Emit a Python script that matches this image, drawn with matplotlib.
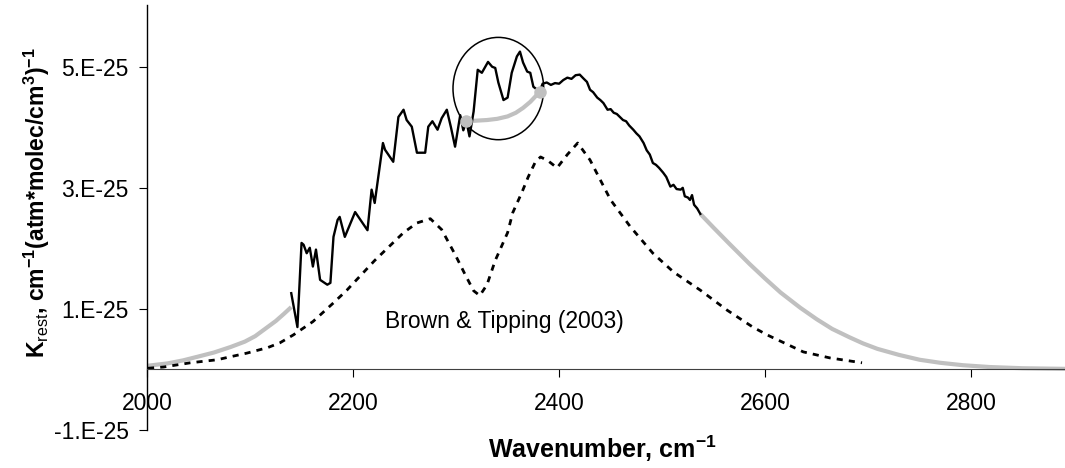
import matplotlib
matplotlib.use("Agg")
import matplotlib.pyplot as plt
from matplotlib.patches import Ellipse
from matplotlib.ticker import FuncFormatter

plt.rcParams['font.family'] = ['Liberation Sans', 'DejaVu Sans']
plt.rcParams['mathtext.fontset'] = 'custom'
plt.rcParams['mathtext.rm'] = 'Liberation Sans'
plt.rcParams['mathtext.bf'] = 'Liberation Sans:bold'

ESCALA = 1e-25

# ============================================================
# DATOS (en unidades de 1E-25)
# ============================================================
# Espectro medido (linea negra)
medido_x = [2140, 2146, 2150, 2152, 2155, 2158, 2161, 2164, 2168, 2175, 2178, 2181,
            2185, 2187, 2192, 2202, 2214, 2218, 2221, 2229, 2231, 2239, 2244, 2249,
            2252, 2257, 2262, 2270, 2273, 2277, 2282, 2286, 2291, 2295, 2299, 2304,
            2307, 2310, 2313, 2317, 2321, 2325, 2331, 2335, 2338, 2341, 2346, 2350,
            2354, 2359, 2362, 2365, 2369, 2372, 2375, 2381, 2384, 2388, 2392, 2396,
            2400, 2404, 2408, 2412, 2416, 2420, 2424, 2427, 2430, 2433, 2437, 2440,
            2443, 2447, 2450, 2453, 2456, 2459, 2462, 2465, 2468, 2472, 2475, 2478,
            2482, 2485, 2488, 2491, 2494, 2497, 2501, 2504, 2508, 2511, 2514, 2518,
            2520, 2522, 2525, 2527, 2529, 2531, 2534, 2537]
medido_y = [1.26, 0.70, 2.09, 2.06, 1.92, 2.01, 1.70, 1.98, 1.48, 1.40, 1.43, 2.19,
            2.47, 2.52, 2.19, 2.60, 2.30, 2.97, 2.75, 3.74, 3.63, 3.43, 4.17, 4.29,
            4.12, 4.01, 3.58, 3.58, 4.01, 4.10, 3.96, 4.15, 4.29, 4.00, 3.68, 4.20,
            3.95, 4.10, 3.85, 4.26, 4.95, 4.90, 5.08, 5.00, 4.98, 4.74, 4.45, 4.49,
            4.90, 5.17, 5.25, 5.07, 4.92, 4.90, 4.67, 4.59, 4.72, 4.74, 4.70, 4.73,
            4.72, 4.78, 4.82, 4.80, 4.86, 4.87, 4.80, 4.75, 4.62, 4.58, 4.49, 4.45,
            4.40, 4.29, 4.30, 4.24, 4.22, 4.17, 4.12, 4.10, 4.03, 3.96, 3.90, 3.85,
            3.74, 3.62, 3.55, 3.41, 3.38, 3.33, 3.25, 3.18, 3.02, 3.05, 2.98, 2.97,
            3.00, 2.86, 2.84, 2.80, 2.88, 2.72, 2.66, 2.57]

# Extrapolaciones (lineas grises)
ala_izq_x = [2000, 2010, 2020, 2035, 2049, 2065, 2081, 2095, 2105, 2113, 2125, 2133, 2140]
ala_izq_y = [0.06, 0.08, 0.10, 0.15, 0.21, 0.28, 0.37, 0.46, 0.55, 0.65, 0.80, 0.92, 1.03]

puente_x = [2310, 2320, 2330, 2340, 2350, 2358, 2365, 2372, 2377, 2381]
puente_y = [4.10, 4.11, 4.12, 4.14, 4.18, 4.24, 4.32, 4.42, 4.51, 4.59]

ala_der_x = [2537, 2550, 2565, 2585, 2600, 2615, 2634, 2650, 2665, 2682, 2695, 2709,
             2730, 2750, 2770, 2792, 2818, 2850, 2891]
ala_der_y = [2.57, 2.34, 2.08, 1.74, 1.50, 1.27, 1.02, 0.83, 0.67, 0.53, 0.43, 0.34,
             0.24, 0.16, 0.11, 0.07, 0.04, 0.02, 0.01]

# Brown & Tipping (2003), linea punteada
bt_x = [2001, 2016, 2042, 2068, 2081, 2097, 2117, 2129, 2142, 2161, 2181, 2194,
        2221, 2249, 2262, 2275, 2286, 2299, 2309, 2317, 2323, 2330, 2338, 2350,
        2355, 2364, 2370, 2377, 2382, 2389, 2398, 2408, 2418, 2430, 2450, 2469,
        2491, 2511, 2537, 2563, 2588, 2602, 2637, 2663, 2694]
bt_y = [0.02, 0.04, 0.11, 0.16, 0.21, 0.27, 0.36, 0.44, 0.57, 0.79, 1.10, 1.31,
        1.80, 2.26, 2.42, 2.49, 2.31, 1.90, 1.56, 1.30, 1.22, 1.40, 1.80, 2.26,
        2.59, 2.93, 3.18, 3.43, 3.51, 3.45, 3.33, 3.55, 3.74, 3.46, 2.80, 2.36,
        1.92, 1.61, 1.31, 0.98, 0.70, 0.57, 0.29, 0.19, 0.11]

# Circulo que marca la zona de la banda
circulo_centro = (2341, 4.64)
circulo_ancho = 88
circulo_alto = 1.69

ticks_x = [2000, 2200, 2400, 2600, 2800]
ticks_y = [-1, 1, 3, 5]

# ============================================================
# GRAFICO
# ============================================================
fig = plt.figure(figsize=(10.65, 4.68), dpi=100)
ax = fig.add_axes([147 / 1065, 38 / 468, 918 / 1065, 425 / 468])

gris = '#c0c0c0'
ax.plot(ala_izq_x, [v * ESCALA for v in ala_izq_y], color=gris, lw=3, solid_capstyle='butt')
ax.plot(ala_der_x, [v * ESCALA for v in ala_der_y], color=gris, lw=3, solid_capstyle='butt')
ax.plot(puente_x, [v * ESCALA for v in puente_y], color=gris, lw=3)
ax.plot([puente_x[0], puente_x[-1]], [puente_y[0] * ESCALA, puente_y[-1] * ESCALA],
        ls='none', marker='o', ms=8, color=gris, zorder=4)
ax.plot(bt_x, [v * ESCALA for v in bt_y], color='black', lw=2, ls=(0, (2.2, 2.2)))
ax.plot(medido_x, [v * ESCALA for v in medido_y], color='black', lw=1.7, zorder=3)

ax.add_patch(Ellipse((circulo_centro[0], circulo_centro[1] * ESCALA), circulo_ancho,
                     circulo_alto * ESCALA, fill=False, color='black', lw=1.1))

ax.text(2231, 0.79 * ESCALA, 'Brown & Tipping (2003)', fontsize=16.5, ha='left', va='center')

ax.set_xlim(2000, 2891)
ax.set_ylim(-1 * ESCALA, 6.02 * ESCALA)

for lado in ['top', 'right']:
    ax.spines[lado].set_visible(False)
ax.spines['bottom'].set_position(('data', 0))
ax.spines['bottom'].set_color('#404040')
ax.spines['left'].set_linewidth(1.0)

ax.set_xticks(ticks_x)
ax.set_yticks([v * ESCALA for v in ticks_y])
ax.yaxis.set_major_formatter(FuncFormatter(lambda v, p: f"{v / ESCALA:.0f}.E-25"))
ax.tick_params(axis='x', direction='out', length=6, pad=10, labelsize=16.5)
ax.tick_params(axis='y', direction='out', length=6, pad=7, labelsize=16.5)

ax.set_xlabel('Wavenumber, cm$^{\\mathbf{-1}}$', fontsize=18, fontweight='bold')
ax.xaxis.set_label_coords(0.496, -0.008)
ax.set_ylabel('K$_{\\mathrm{rest}}$, cm$^{\\mathbf{-1}}$(atm*molec/cm$^{\\mathbf{3}}$)$^{\\mathbf{-1}}$',
              fontsize=16.6, fontweight='bold')
ax.yaxis.set_label_coords(-0.103, 0.536)

plt.savefig('out.png', dpi=100)
plt.close()
